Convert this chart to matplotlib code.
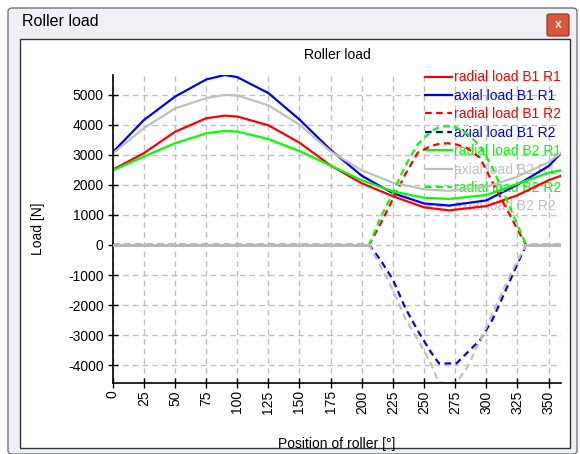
import numpy as np
import matplotlib
matplotlib.use('Agg')
import matplotlib.pyplot as plt
from matplotlib.patches import Rectangle, FancyBboxPatch

plt.rcParams['font.family'] = ['Liberation Sans', 'DejaVu Sans']

# position of roller [deg] for the R1 curves
angle_r1 = [0, 25, 50, 75, 90, 100, 125, 150, 175, 200, 225, 250, 270, 300, 325, 350, 360]
radial_b1_r1 = [2500, 3050, 3760, 4210, 4300, 4270, 3980, 3400, 2640, 2050, 1620, 1250, 1150, 1290, 1650, 2150, 2300]
axial_b1_r1 = [3080, 4150, 4930, 5500, 5650, 5580, 5050, 4170, 3160, 2300, 1720, 1380, 1310, 1480, 2000, 2620, 3050]
radial_b2_r1 = [2480, 2940, 3380, 3710, 3790, 3770, 3520, 3120, 2640, 2150, 1780, 1570, 1530, 1660, 2030, 2400, 2480]
axial_b2_r1 = [3040, 3880, 4540, 4880, 4990, 4970, 4640, 4000, 3110, 2480, 2070, 1850, 1800, 1930, 2270, 2750, 3060]

# position of roller [deg] for the R2 curves
angle_r2 = [0, 206, 215, 225, 235, 245, 255, 262, 269, 276, 285, 295, 305, 315, 325, 332, 360]
radial_b1_r2 = [0, 0, 700, 1520, 2350, 3070, 3280, 3360, 3380, 3340, 3210, 2900, 2070, 1310, 520, 0, 0]
axial_b1_r2 = [0, 0, -500, -1150, -2100, -2850, -3530, -3940, -3940, -3940, -3570, -3160, -2480, -1560, -630, 0, 0]
radial_b2_r2 = [0, 0, 900, 1730, 2640, 3350, 3750, 3920, 3960, 3900, 3680, 3300, 2570, 1630, 670, 0, 0]
axial_b2_r2 = [0, 0, -700, -1500, -2450, -3150, -3900, -4580, -4580, -4580, -4050, -3180, -2280, -1370, -520, 0, 0]

x_ticks = list(range(0, 351, 25))
y_ticks = list(range(-4000, 5001, 1000))

W, H = 580, 454


def fx(px):
    return px / W


def fy(py):
    return 1 - py / H


fig = plt.figure(figsize=(W / 100, H / 100), dpi=100)
fig.patch.set_facecolor('white')

# window chrome
fig.patches.append(FancyBboxPatch((fx(8), fy(454)), fx(569), (H - 8) / H,
                                  boxstyle='round,pad=0,rounding_size=0.008',
                                  transform=fig.transFigure, facecolor='#eef0f3',
                                  edgecolor='#6e7680', lw=1.0, zorder=-10))
fig.patches.append(Rectangle((fx(20), fy(448)), fx(550), (448 - 39) / H,
                             transform=fig.transFigure, facecolor='white',
                             edgecolor='#333333', lw=1.0, zorder=-9))
fig.patches.append(FancyBboxPatch((fx(547), fy(36)), fx(22), 22 / H,
                                  boxstyle='round,pad=0,rounding_size=0.004',
                                  transform=fig.transFigure, facecolor='#d9573d',
                                  edgecolor='#8a2e1e', lw=0.8, zorder=-8))
fig.text(fx(558), fy(25), 'x', color='#f2f2f2', fontsize=9, fontweight='bold',
         ha='center', va='center')
fig.text(fx(22), fy(22), 'Roller load', fontsize=11.5, color='black',
         ha='left', va='center')

ax = fig.add_axes([fx(112.7), fy(382.7), (561 - 112.7) / W, (382.7 - 75) / H])
ax.set_zorder(2)
ax.patch.set_alpha(0)

dash = (0, (3, 2))
ax.plot(angle_r1, radial_b1_r1, color='#ff0000', lw=1.6, label='radial load B1 R1')
ax.plot(angle_r1, axial_b1_r1, color='#0000ff', lw=1.6, label='axial load B1 R1')
ax.plot(angle_r2, radial_b1_r2, color='#ff0000', lw=1.6, ls=dash, label='radial load B1 R2')
ax.plot(angle_r2, axial_b1_r2, color='#0000ff', lw=1.6, ls=dash, label='axial load B1 R2')
ax.plot(angle_r1, radial_b2_r1, color='#00ff00', lw=1.6, label='radial load B2 R1')
ax.plot(angle_r1, axial_b2_r1, color='#c0c0c0', lw=1.6, label='axial load B2 R1')
ax.plot(angle_r2, radial_b2_r2, color='#00ff00', lw=1.6, ls=dash, label='radial load B2 R2')
ax.plot(angle_r2, axial_b2_r2, color='#c0c0c0', lw=1.6, ls=dash, label='axial load B2 R2')

# the unloaded parts of the R2 curves show as one solid grey line
ax.plot(angle_r2[:2], axial_b2_r2[:2], color='#b8b8b8', lw=2.2, ls='solid', zorder=10)
ax.plot(angle_r2[-2:], axial_b2_r2[-2:], color='#b8b8b8', lw=2.2, ls='solid', zorder=10)

all_vals = axial_b1_r1 + axial_b2_r2
ax.set_xlim(0, 360)
ax.set_ylim(min(all_vals), max(all_vals))
ax.set_xticks(x_ticks)
ax.set_yticks(y_ticks)
ax.set_xticklabels([str(t) for t in x_ticks], rotation=90, fontsize=10)
ax.set_yticklabels([str(t) for t in y_ticks], fontsize=10)
ax.tick_params(direction='inout', length=7, width=1, pad=2, colors='black')
ax.tick_params(axis='y', pad=3)

ax.grid(True, color='#c0c0c0', ls=(0, (4, 3)), lw=1)
ax.set_axisbelow(True)
for s in ['top', 'right']:
    ax.spines[s].set_visible(False)
for s in ['left', 'bottom']:
    ax.spines[s].set_linewidth(1.2)

ax.set_xlabel('Position of roller [°]', fontsize=10)
ax.xaxis.set_label_coords(0.5, -0.178)
ax.set_ylabel('Load [N]', fontsize=10)
ax.yaxis.set_label_coords(-0.152, 0.5)
fig.text(fx(337), fy(55), 'Roller load', fontsize=10, ha='center', va='center')

leg = ax.legend(loc='upper right', bbox_to_anchor=(1.0, 1.015), frameon=False,
                fontsize=10, labelcolor='linecolor', handlelength=2.0,
                handletextpad=0.1, labelspacing=0.32, borderpad=0, borderaxespad=0)
leg.set_zorder(1)

fig.savefig('out.png', dpi=100)
